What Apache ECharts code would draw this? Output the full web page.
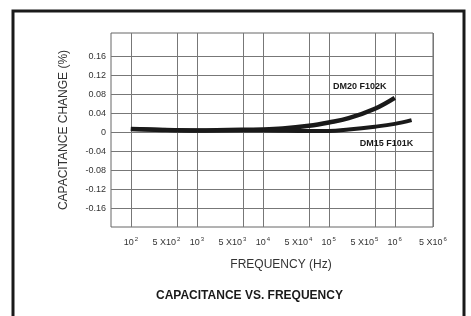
<!DOCTYPE html>
<html>
<head>
<meta charset="utf-8">
<script src="https://cdn.jsdelivr.net/npm/echarts@6/dist/echarts.min.js"></script>
<style>
  html, body { margin: 0; padding: 0; background: #fff; }
  #chart { width: 471px; height: 316px; }
</style>
</head>
<body>
<div id="chart"></div>
<script>
// frequency (Hz) vs capacitance change (%)
var dm20Freq = [100, 300, 1000, 3000, 10000, 20000, 50000, 100000, 200000, 500000, 1000000];
var dm20Change = [0.007, 0.005, 0.004, 0.005, 0.006, 0.008, 0.014, 0.021, 0.03, 0.05, 0.073];
var dm15Freq = [100, 1000, 10000, 50000, 100000, 200000, 500000, 1000000, 1800000];
var dm15Change = [0.007, 0.004, 0.004, 0.003, 0.003, 0.006, 0.012, 0.018, 0.026];

var xTicks = [100, 500, 1000, 5000, 10000, 50000, 100000, 500000, 1000000, 5000000];
var xMin = 50, xMax = 3800000;
var yTicks = [-0.16, -0.12, -0.08, -0.04, 0, 0.04, 0.08, 0.12, 0.16];

var FONT = '"Liberation Sans", Arial, sans-serif';
var INK = '#1a1a1a';

function pairs(xs, ys) {
  return xs.map(function (x, i) { return [x, ys[i]]; });
}

function freqLabel(v) {
  if (v >= xMax) return '{b|5 X10}{s|6}';
  var exp = Math.floor(Math.log10(v) + 1e-9);
  var lead = Math.round(v / Math.pow(10, exp));
  if (lead > 1) return '{b|5 X10}{s|' + exp + '}{sp| }';
  return '{b|10}{s|' + exp + '}';
}

var chart = echarts.init(document.getElementById('chart'));
chart.setOption({
  animation: false,
  textStyle: { fontFamily: FONT },
  title: {
    text: 'CAPACITANCE VS. FREQUENCY',
    left: 151, top: 285,
    textStyle: { fontFamily: FONT, fontSize: 12, fontWeight: 'bold', color: INK }
  },
  graphic: [{
    type: 'rect',
    shape: { x: 13, y: 11, width: 451, height: 330 },
    style: { fill: 'none', stroke: INK, lineWidth: 3 },
    silent: true
  }],
  grid: {
    left: 111, right: 38, top: 33, bottom: 89,
    show: true, borderColor: '#666', borderWidth: 1
  },
  xAxis: {
    type: 'log', logBase: 10, min: xMin, max: xMax,
    name: 'FREQUENCY (Hz)', nameLocation: 'middle', nameGap: 32,
    nameTextStyle: { fontFamily: FONT, fontSize: 12, color: '#333', padding: [0, 0, 0, 18] },
    axisLine: { show: false },
    axisTick: { show: false, customValues: xTicks.map(function (v) { return Math.min(v, xMax); }) },
    axisLabel: {
      customValues: xTicks.map(function (v) { return Math.min(v, xMax); }),
      margin: 9,
      formatter: freqLabel,
      rich: {
        b: { fontSize: 9, color: '#333', fontFamily: FONT },
        s: { fontSize: 6, color: '#333', fontFamily: FONT, padding: [0, 0, 7, 1] },
        sp: { width: 21, fontSize: 9 }
      }
    },
    splitLine: { show: true, lineStyle: { color: '#777', width: 1 } }
  },
  yAxis: {
    type: 'value', min: -0.2, max: 0.21,
    name: 'CAPACITANCE CHANGE (%)', nameLocation: 'middle', nameGap: 41, nameRotate: 90,
    nameTextStyle: { fontFamily: FONT, fontSize: 12, color: '#333' },
    axisLine: { show: false },
    axisTick: { show: false, customValues: yTicks },
    axisLabel: {
      customValues: yTicks, margin: 5,
      fontSize: 9, color: '#333', fontFamily: FONT,
      formatter: function (v) { return String(Math.round(v * 100) / 100); }
    },
    splitLine: { show: true, lineStyle: { color: '#777', width: 1 } }
  },
  series: [
    {
      name: 'DM20 F102K', type: 'line', smooth: 0.4, symbol: 'none',
      data: pairs(dm20Freq, dm20Change),
      lineStyle: { color: INK, width: 4.5 },
      endLabel: {
        show: true, formatter: '{a}', align: 'center', verticalAlign: 'middle',
        distance: 0, offset: [-35, -11],
        fontSize: 9, fontWeight: 'bold', color: INK, fontFamily: FONT
      }
    },
    {
      name: 'DM15 F101K', type: 'line', smooth: 0.4, symbol: 'none',
      data: pairs(dm15Freq, dm15Change),
      lineStyle: { color: INK, width: 4 },
      endLabel: {
        show: true, formatter: '{a}', align: 'center', verticalAlign: 'middle',
        distance: 0, offset: [-25, 23],
        fontSize: 9, fontWeight: 'bold', color: INK, fontFamily: FONT
      }
    }
  ]
});
</script>
</body>
</html>
